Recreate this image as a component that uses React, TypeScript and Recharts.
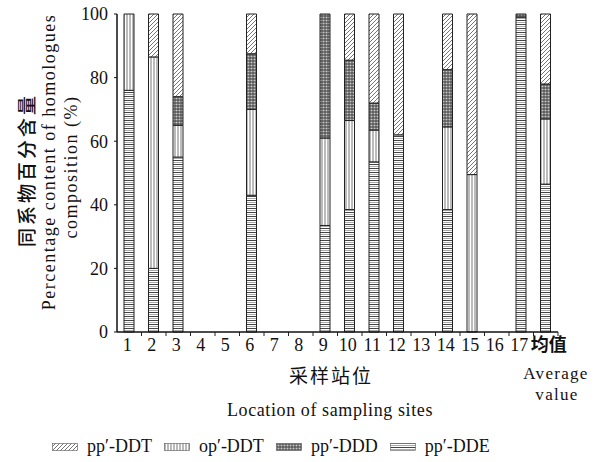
import { BarChart, Bar, XAxis, YAxis } from 'recharts'

const sites = ['1', '2', '3', '4', '5', '6', '7', '8', '9', '10', '11', '12', '13', '14', '15', '16', '17', '均值']
const ppDDE = [76, 20, 55, 0, 0, 43, 0, 0, 33.5, 38.5, 53.5, 62, 0, 38.5, 0, 0, 99, 46.5]
const opDDT = [24, 66.5, 10, 0, 0, 27, 0, 0, 27.5, 28, 10, 0, 0, 26, 49.5, 0, 0, 20.5]
const ppDDD = [0, 0, 9, 0, 0, 17.5, 0, 0, 39, 19, 8.5, 0, 0, 18, 0, 0, 1, 11]
const ppDDT = [0, 13.5, 26, 0, 0, 12.5, 0, 0, 0, 14.5, 28, 38, 0, 17.5, 50.5, 0, 0, 22]
const yTicks = [0, 20, 40, 60, 80, 100]

const legendItems = [
  { name: 'pp′-DDT', fill: 'url(#patDDT)' },
  { name: 'op′-DDT', fill: 'url(#patOpDDT)' },
  { name: 'pp′-DDD', fill: 'url(#patDDD)' },
  { name: 'pp′-DDE', fill: 'url(#patDDE)' },
]

const data = sites.map((site, i) => ({
  site,
  ppDDE: ppDDE[i],
  opDDT: opDDT[i],
  ppDDD: ppDDD[i],
  ppDDT: ppDDT[i],
}))

const W = 605
const H = 462
const LEFT = 117
const RIGHT = 47
const TOP = 14
const BOTTOM = 130
const HALF_BAND = (W - LEFT - RIGHT) / sites.length / 2
const SERIF = '"Liberation Serif", "Times New Roman", serif'
const CJK = '"Noto Sans CJK SC", sans-serif'

const SiteTick = (props: any) => {
  const { x, y, payload } = props
  const isAvg = payload.value === '均值'
  return (
    <g>
      <line x1={x + HALF_BAND} y1={y} x2={x + HALF_BAND} y2={y + 4} stroke="#222" strokeWidth={1} />
      <text
        x={isAvg ? x + 3 : x - 2}
        y={y + 19}
        textAnchor="middle"
        fontSize={18}
        fontWeight={isAvg ? 700 : 400}
        fontFamily={isAvg ? CJK : SERIF}
        fill="#111"
      >
        {payload.value}
      </text>
    </g>
  )
}

function Patterns() {
  return (
    <defs>
      <pattern id="patDDT" patternUnits="userSpaceOnUse" width="4" height="4">
        <rect width="4" height="4" fill="#fff" />
        <path d="M-1,1 l2,-2 M0,4 l4,-4 M3,5 l2,-2" stroke="#666" strokeWidth="0.9" />
      </pattern>
      <pattern id="patOpDDT" patternUnits="userSpaceOnUse" width="3" height="3">
        <rect width="3" height="3" fill="#fff" />
        <line x1="1" y1="0" x2="1" y2="3" stroke="#777" strokeWidth="1" />
      </pattern>
      <pattern id="patDDD" patternUnits="userSpaceOnUse" width="3" height="3">
        <rect width="3" height="3" fill="#ccc" />
        <line x1="0" y1="1" x2="3" y2="1" stroke="#333" strokeWidth="1" />
        <line x1="1" y1="0" x2="1" y2="3" stroke="#444" strokeWidth="1" />
      </pattern>
      <pattern id="patDDE" patternUnits="userSpaceOnUse" width="4" height="4">
        <rect width="4" height="4" fill="#fff" />
        <line x1="0" y1="0.5" x2="4" y2="0.5" stroke="#444" strokeWidth="1" />
        <line x1="0" y1="2.5" x2="4" y2="2.5" stroke="#aaa" strokeWidth="1" />
      </pattern>
    </defs>
  )
}

export default function App() {
  return (
    <div style={{ position: 'absolute', left: 0, top: 0, width: W, height: H, background: '#fff' }}>
      <BarChart
        width={W}
        height={H}
        data={data}
        margin={{ top: TOP, right: RIGHT, bottom: 0, left: 0 }}
        barSize={10}
      >
        <Patterns />
        <XAxis
          dataKey="site"
          height={BOTTOM}
          tickLine={false}
          tickSize={0}
          tickMargin={0}
          interval={0}
          axisLine={{ stroke: '#111', strokeWidth: 1.5 }}
          tick={<SiteTick />}
        />
        <XAxis xAxisId="top" orientation="top" dataKey="site" height={0} tick={false} tickLine={false} axisLine={{ stroke: '#111', strokeWidth: 1.5 }} />
        <YAxis
          width={LEFT}
          domain={[0, 100]}
          ticks={yTicks}
          tickSize={3}
          tickMargin={6}
          axisLine={{ stroke: '#111', strokeWidth: 1.5 }}
          tickLine={{ stroke: '#111' }}
          tick={{ fontSize: 18, fill: '#111', fontFamily: SERIF }}
        />
        <YAxis yAxisId="right" orientation="right" width={0} domain={[0, 100]} tick={false} tickLine={false} axisLine={{ stroke: '#111', strokeWidth: 1.5 }} />
        <Bar dataKey="ppDDE" stackId="a" fill="url(#patDDE)" stroke="#222" strokeWidth={1} isAnimationActive={false} />
        <Bar dataKey="opDDT" stackId="a" fill="url(#patOpDDT)" stroke="#222" strokeWidth={1} isAnimationActive={false} />
        <Bar dataKey="ppDDD" stackId="a" fill="url(#patDDD)" stroke="#222" strokeWidth={1} isAnimationActive={false} />
        <Bar dataKey="ppDDT" stackId="a" fill="url(#patDDT)" stroke="#222" strokeWidth={1} isAnimationActive={false} />
      </BarChart>

      <svg width={W} height={H} style={{ position: 'absolute', left: 0, top: 0, pointerEvents: 'none' }}>
        <g fill="#111" textAnchor="middle">
          <text transform="translate(25,170) rotate(-90)" fontFamily={CJK} fontSize={19} fontWeight={500} letterSpacing={3} dominantBaseline="central">
            同系物百分含量
          </text>
          <text transform="translate(49,162) rotate(-90)" fontFamily={SERIF} fontSize={18} letterSpacing={1.5} dominantBaseline="central">
            Percentage content of homologues
          </text>
          <text transform="translate(71,167) rotate(-90)" fontFamily={SERIF} fontSize={18} letterSpacing={1.5} dominantBaseline="central">
            composition (%)
          </text>
          <text x={331} y={383} fontFamily={CJK} fontSize={19} letterSpacing={2}>
            采样站位
          </text>
          <text x={330} y={416} fontFamily={SERIF} fontSize={18} letterSpacing={0.6}>
            Location of sampling sites
          </text>
          <text x={556} y={379} fontFamily={SERIF} fontSize={17} letterSpacing={1.3}>
            Average
          </text>
          <text x={557} y={400} fontFamily={SERIF} fontSize={17} letterSpacing={1.3}>
            value
          </text>
        </g>
      </svg>

      <div
        style={{
          position: 'absolute',
          left: 52,
          top: 436,
          display: 'flex',
          alignItems: 'center',
          fontFamily: SERIF,
          fontSize: 18,
          color: '#111',
        }}
      >
        {legendItems.map((item) => (
          <div key={item.name} style={{ display: 'flex', alignItems: 'center', marginRight: 12 }}>
            <svg width={26} height={8} style={{ marginRight: 9 }}>
              <rect x={0.5} y={0.5} width={25} height={7} fill={item.fill} stroke="#555" strokeWidth={0.6} />
            </svg>
            <span>{item.name}</span>
          </div>
        ))}
      </div>
    </div>
  )
}
